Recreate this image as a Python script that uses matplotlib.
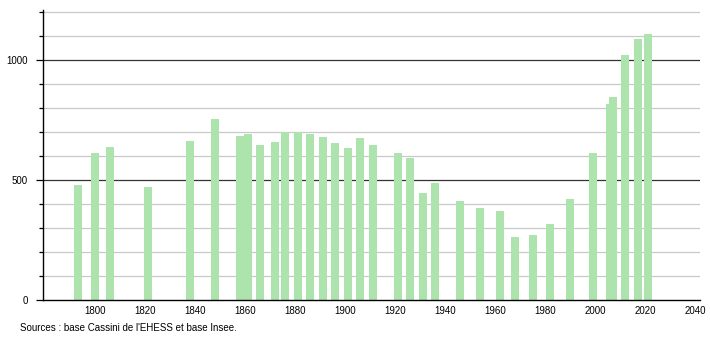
import matplotlib
matplotlib.use("Agg")
import matplotlib.pyplot as plt
from matplotlib.ticker import MultipleLocator

plt.rcParams['font.family'] = ['Liberation Sans', 'DejaVu Sans']

# population par annee de recensement
annees = [1793, 1800, 1806, 1821, 1838, 1848, 1858, 1861, 1866, 1872, 1876,
          1881, 1886, 1891, 1896, 1901, 1906, 1911, 1921, 1926, 1931, 1936,
          1946, 1954, 1962, 1968, 1975, 1982, 1990, 1999, 2006, 2007, 2012,
          2017, 2021]
population = [479, 614, 637, 471, 664, 754, 685, 693, 646, 660, 699,
              701, 693, 680, 653, 635, 676, 646, 611, 593, 447, 486,
              414, 385, 371, 264, 271, 315, 421, 614, 817, 847, 1021,
              1086, 1108]

xticks = [1800, 1820, 1840, 1860, 1880, 1900, 1920, 1940, 1960, 1980, 2000,
          2020, 2040]
yticks = [0, 500, 1000]

fig = plt.figure(figsize=(7.1, 3.4), dpi=100)
ax = fig.add_axes([43 / 710, 40 / 340, 657 / 710, 290.4 / 340])

# grille : fine tous les 100, foncee a 500 et 1000
for v in range(100, 1300, 100):
    if v % 500 == 0:
        ax.axhline(v, color='#333333', lw=0.9, zorder=1)
    else:
        ax.axhline(v, color='#c8c8c8', lw=0.9, zorder=1)

ax.bar(annees, population, width=3.2, color='#ade3ad', zorder=2)

ax.set_xlim(1779.2, 2042)
ax.set_ylim(0, 1210)
ax.set_xticks(xticks)
ax.set_yticks(yticks)
ax.yaxis.set_minor_locator(MultipleLocator(100))
ax.tick_params(axis='x', length=0, labelsize=7, pad=4)
ax.tick_params(axis='y', which='major', length=5, width=0.9, labelsize=7, pad=6)
ax.tick_params(axis='y', which='minor', length=3, width=0.9)

for s in ['top', 'right']:
    ax.spines[s].set_visible(False)
for s in ['left', 'bottom']:
    ax.spines[s].set_linewidth(1.0)
    ax.spines[s].set_zorder(3)

fig.text(20 / 710, 1 - 328 / 340, "Sources : base Cassini de l'EHESS et base Insee.",
         fontsize=7, va='center', ha='left')

fig.savefig('out.png', dpi=100)
